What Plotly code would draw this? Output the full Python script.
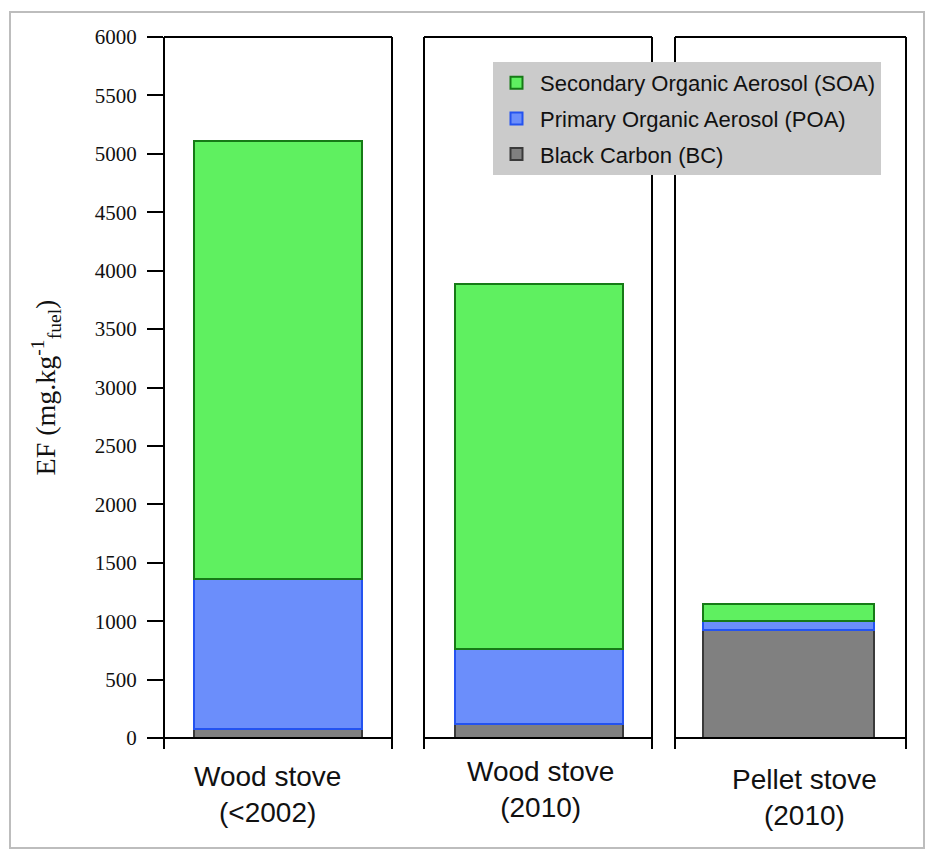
import plotly.graph_objects as go

# ---------------- data ----------------
categories = ["Wood stove<br>(<2002)", "Wood stove<br>(2010)", "Pellet stove<br>(2010)"]
bc_values = [80, 120, 925]
poa_values = [1280, 640, 80]
soa_values = [3750, 3130, 145]
series_names = ["Black Carbon (BC)", "Primary Organic Aerosol (POA)", "Secondary Organic Aerosol (SOA)"]
y_ticks = [0, 500, 1000, 1500, 2000, 2500, 3000, 3500, 4000, 4500, 5000, 5500, 6000]

W, H = 934, 858
OFF = 8  # page body margin
def px(x):
    return (x - OFF) / W
def py(y):
    return 1 - (y - OFF) / H

fill_colors = ["#808080", "#6b8efb", "#5ff060"]
line_colors = ["#3a3a3a", "#2453f0", "#167a16"]
legend_ranks = [3, 2, 1]
series_values = [bc_values, poa_values, soa_values]

panels = [(164, 392), (424, 652), (675, 906)]
bar_centers_frac = [0.5, 0.504, 0.49]
y_top, y_bot = 37, 738

fig = go.Figure()
for s, (name, vals) in enumerate(zip(series_names, series_values)):
    for i in range(3):
        ax = "" if i == 0 else str(i + 1)
        fig.add_trace(go.Bar(
            x=[categories[i]], y=[vals[i]], name=name,
            xaxis="x" + ax, yaxis="y" + ax,
            marker=dict(color=fill_colors[s], line=dict(color=line_colors[s], width=2)),
            width=0.74, legendgroup=name, showlegend=(i == 0), legendrank=legend_ranks[s],
        ))

layout = dict(
    width=W, height=H, barmode="stack",
    margin=dict(l=0, r=0, t=0, b=0, autoexpand=False),
    paper_bgcolor="white", plot_bgcolor="rgba(0,0,0,0)",
    showlegend=True,
    legend=dict(
        x=px(493), y=py(62), xanchor="left", yanchor="top",
        bgcolor="#cbcbcb", borderwidth=0,
        font=dict(family="Liberation Sans, Arial, sans-serif", size=22, color="#111"),
        traceorder="grouped", tracegroupgap=4,
        itemwidth=37,
    ),
)
for i, (l, r) in enumerate(panels):
    ax = "" if i == 0 else str(i + 1)
    c = bar_centers_frac[i]
    layout["xaxis" + ax] = dict(
        domain=[px(l), px(r)], anchor="y" + ax, showticklabels=False, showgrid=False,
        zeroline=False, showline=False, ticks="", range=[-c, 1 - c], fixedrange=True,
        automargin=False,
    )
    yd = dict(
        domain=[py(y_bot), py(y_top)], anchor="x" + ax, range=[0, 6000],
        showgrid=False, zeroline=False, showline=False, fixedrange=True, automargin=False,
    )
    if i == 0:
        yd.update(
            tickvals=y_ticks, ticktext=[str(v) for v in y_ticks], ticks="outside",
            ticklen=16, tickwidth=2, tickcolor="black", ticklabelstandoff=6,
            tickfont=dict(family="Liberation Serif, Times New Roman, serif", size=21, color="#111"),
            title=dict(text="EF (mg.kg<sup>-1</sup><sub>fuel</sub>)", standoff=30,
                       font=dict(family="Liberation Serif, Times New Roman, serif", size=28, color="#111")),
        )
    else:
        yd.update(showticklabels=False, ticks="")
    layout["yaxis" + ax] = yd
fig.update_layout(**layout)

shapes = []
shapes.append(dict(type="rect", xref="paper", yref="paper", x0=px(10), x1=px(924), y0=py(12), y1=py(848),
                   line=dict(color="#bdbdbd", width=2), layer="below"))
for i, (l, r) in enumerate(panels):
    for x in (l, r):
        shapes.append(dict(type="line", xref="paper", yref="paper", x0=px(x), x1=px(x),
                           y0=py(y_top), y1=py(749), line=dict(color="black", width=2)))
    for y in (y_top, y_bot):
        shapes.append(dict(type="line", xref="paper", yref="paper", x0=px(l), x1=px(r),
                           y0=py(y), y1=py(y), line=dict(color="black", width=2)))
fig.update_layout(shapes=shapes)

label_pos = [(267, 794), (540, 789), (804, 797)]
for (x, y), cat in zip(label_pos, categories):
    fig.add_annotation(text=cat, xref="paper", yref="paper", x=px(x), y=py(y),
                       xanchor="center", yanchor="middle", showarrow=False,
                       font=dict(family="Liberation Sans, Arial, sans-serif", size=28, color="#111"))

fig.write_html("out.html")
